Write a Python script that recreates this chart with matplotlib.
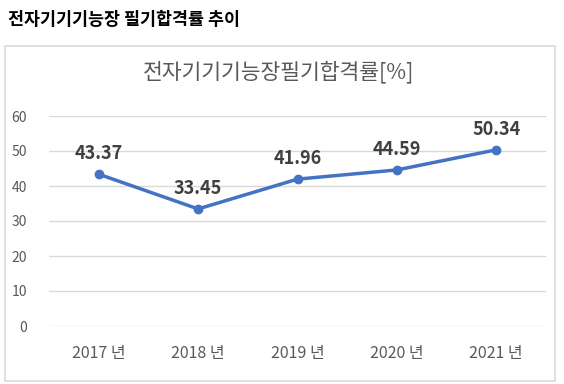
import matplotlib
matplotlib.use('Agg')
import matplotlib.pyplot as plt
from matplotlib.patches import Rectangle

plt.rcParams['font.family'] = ['Noto Sans CJK KR', 'DejaVu Sans']

years = ['2017 년', '2018 년', '2019 년', '2020 년', '2021 년']
rates = [43.37, 33.45, 41.96, 44.59, 50.34]
y_ticks = [0, 10, 20, 30, 40, 50, 60]

fig = plt.figure(figsize=(5.64, 3.84), dpi=100)
W, H = 564, 384

# outer chart frame
fig.patches.append(Rectangle((5 / W, 1 - 381 / H), 550 / W, 335 / H,
                             transform=fig.transFigure, fill=False,
                             edgecolor='#d9d9d9', linewidth=1.2))

fig.text(8 / W, 1 - 20 / H, '전자기기기능장 필기합격률 추이', fontsize=12.5,
         fontweight='bold', color='black', va='center', ha='left')
fig.text(279 / W, 1 - 72 / H, '전자기기기능장필기합격률[%]', fontsize=15.5,
         color='#595959', va='center', ha='center')

ax = fig.add_axes([49 / W, 58 / H, 497 / W, 210 / H])
x = list(range(len(years)))
ax.plot(x, rates, color='#4472c4', linewidth=2.5, marker='o', markersize=6)
for xi, v in zip(x, rates):
    ax.annotate(f'{v:.2f}', (xi, v), xytext=(0, 8), textcoords='offset points',
                ha='center', va='bottom', fontsize=13, fontweight='bold',
                color='#404040')

ax.set_xlim(-0.5, len(years) - 0.5)
ax.set_ylim(0, 60)
ax.set_yticks(y_ticks)
ax.set_xticks(x)
ax.set_xticklabels(years)
ax.grid(axis='y', color='#d9d9d9', linewidth=1)
ax.set_axisbelow(True)
for s in ax.spines.values():
    s.set_visible(False)
ax.tick_params(axis='both', length=0, labelcolor='#595959')
ax.tick_params(axis='y', pad=16, labelsize=10)
ax.tick_params(axis='x', pad=14, labelsize=11.5)

fig.savefig('out.png', dpi=100)
